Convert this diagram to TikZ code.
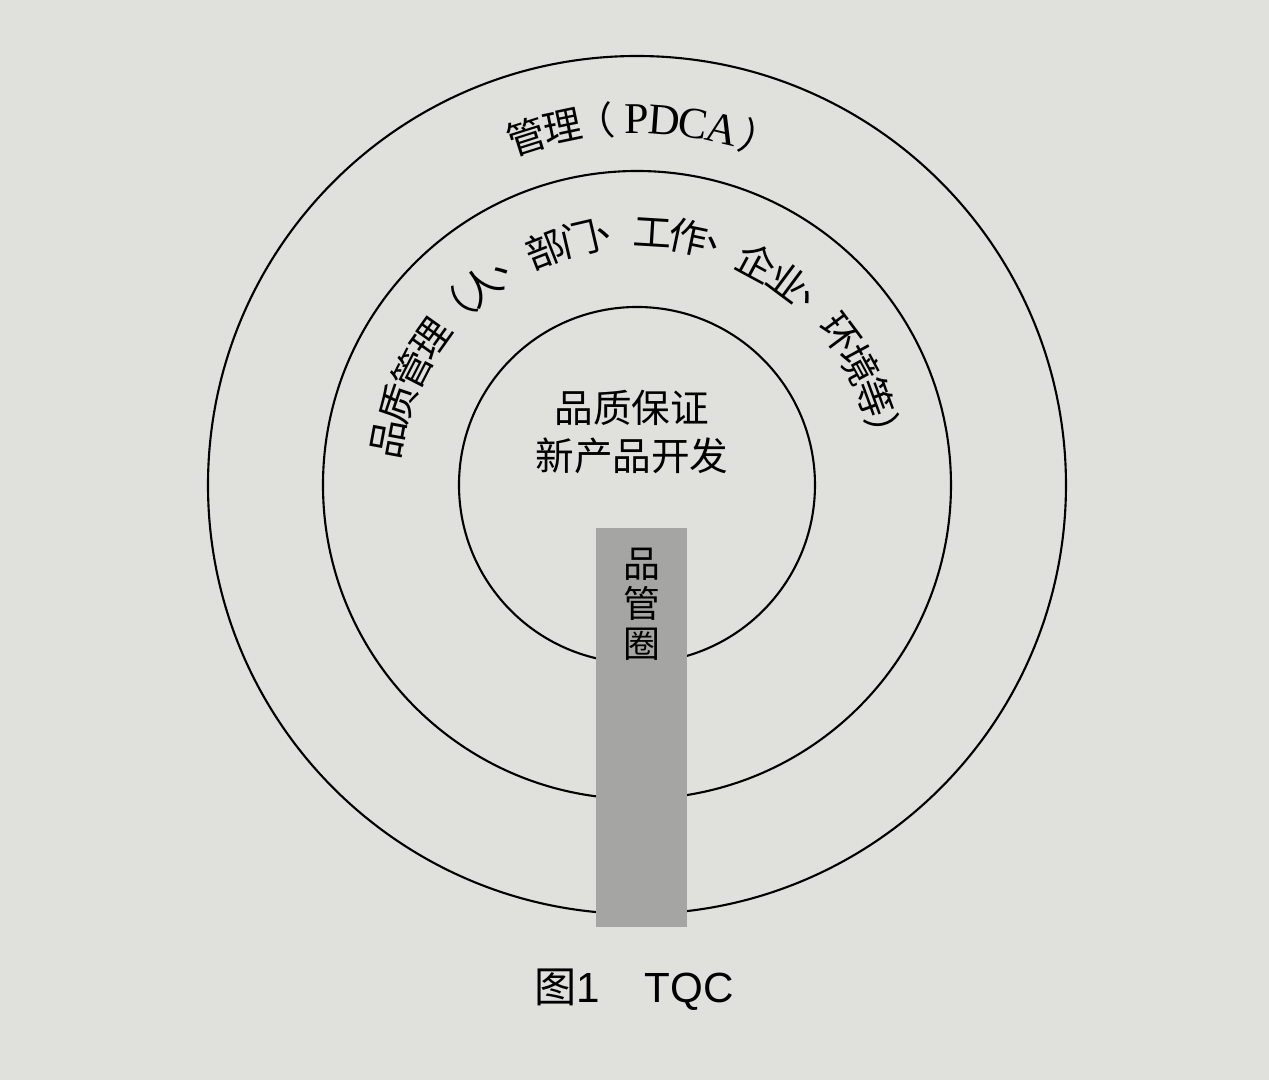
\documentclass[tikz,border=0pt]{standalone}
\usepackage{fontspec}
\setmainfont{Liberation Serif}
\newfontfamily\cjk{Noto Sans CJK SC}
\newfontfamily\capfont{Liberation Sans}
\usetikzlibrary{positioning}
\definecolor{paper}{RGB}{224,225,221}
\definecolor{barfill}{RGB}{165,165,163}
\tikzset{
  ringline/.style={line width=0.6pt},
  ringchar/.style={inner sep=0pt, font=\cjk\fontsize{11}{13}\selectfont},
  qccbar/.style={fill=barfill, inner sep=0pt, minimum width=0.91cm, minimum height=3.99cm},
}
\newcommand{\pdca}[1]{{\rmfamily\fontsize{12.5}{14}\selectfont #1}}
\begin{document}
\begin{tikzpicture}
  % Page and its margins
  \fill[paper] (-6.37,-5.95) rectangle (6.32,4.85);
  \useasboundingbox (-6.37,-5.95) rectangle (6.32,4.85);

  % The three rings
  \draw[ringline] (0,0) circle (4.29); % outer ring
  \draw[ringline] (0,0) circle (3.14); % middle ring
  \draw[ringline] (0,0) circle (1.78); % inner ring

  % Label of the outer ring
  \foreach \a/\c [count=\i] in {107.6/管, 101.8/理, 96.6/（, 90/\pdca{P}, 85.7/\pdca{D}, 81.1/\pdca{C}, 76.6/\pdca{A}, 70.4/）} {
    \node[ringchar, rotate=\a-90] (out\i) at (\a:3.66) {\c};
  }

  % Label of the middle ring
  \foreach \c [count=\i from 0] in {品,质,管,理,（,人,、,部,门,、,工,作,、,企,业,、,环,境,等,）} {
    \node[ringchar, rotate=79.5-8.3*\i] (mid\i) at ({169.5-8.3*\i}:2.53) {\c};
  }

  % Centre text
  \node[align=center, font=\cjk\fontsize{11}{13.6}\selectfont] (core) at (-0.05,0.53) {品质保证\\新产品开发};

  % Grey bar across the rings
  \node[qccbar] (qcc) at (0.045,-2.425) {};
  \node[align=center, inner sep=0pt, font=\cjk\fontsize{10.5}{11.4}\selectfont, below=0.2cm of qcc.north] (qcclabel) {品\\管\\圈};

  % Caption
  \node[font=\capfont\fontsize{12}{14}\selectfont] (caption) at (-0.03,-5.05) {{\cjk 图}1\hspace{0.45cm}TQC};
\end{tikzpicture}
\end{document}
